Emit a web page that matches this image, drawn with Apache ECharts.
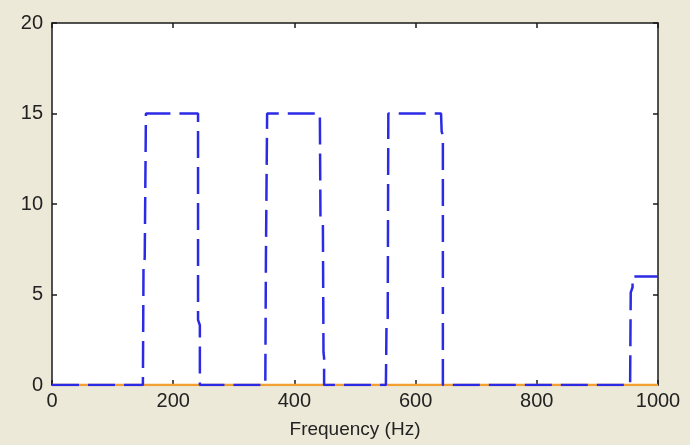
<!DOCTYPE html>
<html>
<head>
<meta charset="utf-8">
<script src="https://cdn.jsdelivr.net/npm/echarts@6/dist/echarts.min.js"></script>
<style>
  html, body { margin: 0; padding: 0; background: #ece9d8; }
  #chart { width: 690px; height: 445px; }
</style>
</head>
<body>
<div id="chart"></div>
<script>
  // frequency (Hz) and magnitude of the dashed blue trace
  var freqs = [0, 150, 151, 153, 155, 241, 241, 244, 244,
               352, 353, 355, 442, 443, 447, 448, 449, 449,
               551, 552, 554, 555, 642, 643, 645, 645,
               954, 955, 958, 958, 1000];
  var mags  = [0, 0, 6.6, 7.0, 15, 15, 3.6, 3.3, 0,
               0, 7.0, 15, 15, 9.3, 9.0, 1.8, 1.5, 0,
               0, 3.4, 3.7, 15, 15, 14, 13.8, 0,
               0, 5.1, 5.4, 6, 6];
  // orange trace sits on zero over the whole range
  var baseFreqs = [0, 1000];
  var baseMags = [0, 0];

  var xTicks = [0, 200, 400, 600, 800, 1000];
  var yTicks = [0, 5, 10, 15, 20];

  function pairs(xs, ys) {
    var out = [];
    for (var i = 0; i < xs.length; i++) out.push([xs[i], ys[i]]);
    return out;
  }

  var myChart = echarts.init(document.getElementById('chart'));

  var axisFont = { fontFamily: 'Liberation Sans, Arial, sans-serif', fontSize: 20, color: '#222' };
  var axisLine = { show: true, onZero: false, lineStyle: { color: '#1a1a1a', width: 1.5 } };
  var tick = { show: true, inside: true, length: 5, lineStyle: { color: '#1a1a1a', width: 1.5 } };

  var option = {
    backgroundColor: '#ece9d8',
    animation: false,
    grid: {
      left: 52, right: 32, top: 23, bottom: 60,
      show: true, backgroundColor: '#fff', borderWidth: 0
    },
    xAxis: [{
      type: 'value',
      min: xTicks[0], max: xTicks[xTicks.length - 1], interval: 200,
      position: 'bottom',
      name: 'Frequency (Hz)',
      nameLocation: 'middle',
      nameGap: 35,
      nameTextStyle: Object.assign({}, axisFont, { fontSize: 19 }),
      axisLine: axisLine,
      axisTick: tick,
      axisLabel: Object.assign({ margin: 6, formatter: function (v) { return String(v); } }, axisFont),
      splitLine: { show: false }
    }, {
      type: 'value',
      min: xTicks[0], max: xTicks[xTicks.length - 1], interval: 200,
      position: 'top',
      axisLine: axisLine,
      axisTick: tick,
      axisLabel: { show: false },
      splitLine: { show: false }
    }],
    yAxis: [{
      type: 'value',
      min: yTicks[0], max: yTicks[yTicks.length - 1], interval: 5,
      position: 'left',
      axisLine: axisLine,
      axisTick: tick,
      axisLabel: Object.assign({ margin: 9 }, axisFont),
      splitLine: { show: false }
    }, {
      type: 'value',
      min: yTicks[0], max: yTicks[yTicks.length - 1], interval: 5,
      position: 'right',
      axisLine: axisLine,
      axisTick: tick,
      axisLabel: { show: false },
      splitLine: { show: false }
    }],
    series: [
      {
        name: 'base',
        type: 'line',
        symbol: 'none',
        z: 2,
        lineStyle: { color: '#f3a033', width: 2.5 },
        data: pairs(baseFreqs, baseMags)
      },
      {
        name: 'response',
        type: 'line',
        symbol: 'none',
        z: 3,
        lineStyle: { color: '#2b2be6', width: 2.5, type: [27, 9] },
        data: pairs(freqs, mags)
      }
    ]
  };

  myChart.setOption(option);
</script>
</body>
</html>
